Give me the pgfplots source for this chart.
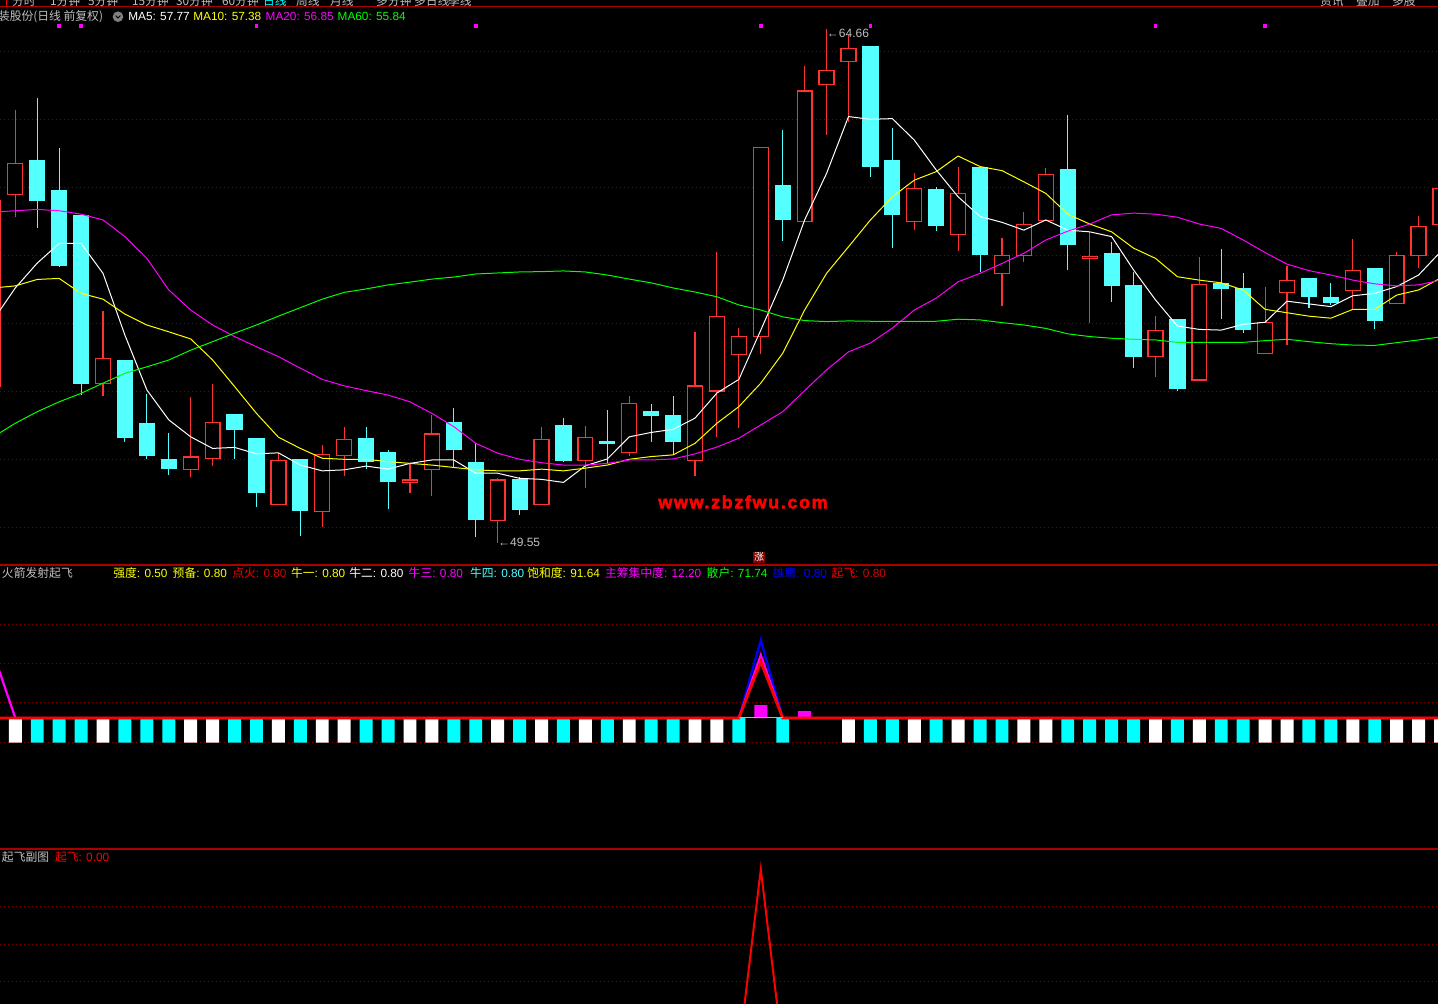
\documentclass[border=0pt]{standalone}
\usepackage{pgfplots}
\pgfplotsset{compat=1.18}
\usepackage{pgfplotstable}
\usepackage{fontspec}
\setmainfont{Liberation Sans}
\newfontfamily\cjk{Noto Sans CJK SC}

\definecolor{upred}{RGB}{255,50,50}
\definecolor{dncyan}{RGB}{84,255,255}
\definecolor{gridred}{RGB}{128,0,0}
\definecolor{sepred}{RGB}{170,0,0}
\definecolor{txtgray}{RGB}{192,192,192}
\definecolor{valred}{RGB}{215,0,0}
\definecolor{tdxcyan}{RGB}{0,255,255}
\definecolor{tdxmag}{RGB}{255,0,255}
\definecolor{tdxyel}{RGB}{255,255,0}
\definecolor{tdxgreen}{RGB}{0,255,0}
\definecolor{tdxblue}{RGB}{0,0,255}
\definecolor{tdxred}{RGB}{255,0,0}

% rising candles (close >= open): i open high low close
\pgfplotstableread{
i o h l c
-1 54.14 59.60 54.14 59.60
0 59.79 62.27 59.14 60.71
4 54.22 56.36 53.86 54.97
8 51.69 53.83 51.49 52.07
9 52.03 54.21 51.80 53.09
12 50.68 52.19 50.68 51.97
14 50.47 52.42 50.02 52.15
15 52.12 52.95 51.52 52.59
18 51.32 51.88 51.02 51.39
19 51.71 53.31 50.93 52.74
22 50.21 51.46 49.55 51.39
24 50.68 52.95 50.68 52.59
26 51.97 52.98 51.16 52.65
28 52.21 53.86 52.11 53.65
31 51.97 55.74 51.52 54.16
32 54.01 58.11 52.66 56.19
33 55.09 55.87 52.91 55.62
34 55.62 61.18 55.09 61.18
36 59.00 63.57 59.00 62.83
37 63.03 64.66 61.55 63.44
38 63.69 64.48 61.93 64.09
41 59.00 60.42 58.75 59.97
43 58.62 60.60 58.14 59.82
45 57.47 58.51 56.52 58.00
46 58.00 59.26 57.81 58.91
47 59.03 60.57 59.03 60.38
49 57.90 58.69 56.02 57.96
52 55.03 56.21 54.43 55.79
54 54.33 57.95 54.33 57.15
57 55.12 57.07 55.12 56.03
58 56.91 57.69 55.37 57.26
61 56.97 58.48 56.41 57.56
63 56.59 58.10 56.59 58.00
64 58.00 59.16 57.64 58.85
65 58.91 60.21 58.80 59.97
}\upcandles

% falling candles
\pgfplotstableread{
i o h l c
1 60.77 62.63 58.81 59.61
2 59.89 61.16 57.66 57.71
3 59.16 59.16 53.89 54.22
5 54.89 54.89 52.52 52.64
6 53.04 53.92 52.02 52.11
7 51.98 52.76 51.54 51.72
10 53.30 53.30 52.02 52.87
11 52.60 52.60 50.61 51.02
13 51.99 51.99 49.75 50.49
16 52.60 52.95 51.71 51.95
17 52.21 52.27 50.53 51.34
20 53.07 53.51 51.74 52.28
21 51.89 52.47 49.71 50.22
23 51.39 51.47 50.37 50.52
25 52.98 53.21 51.93 51.96
27 52.52 53.44 51.88 52.46
29 53.39 53.63 52.52 53.28
30 53.27 53.86 52.16 52.52
35 60.05 61.69 58.43 59.07
39 64.13 64.13 60.31 60.61
40 60.77 61.74 58.22 59.19
42 59.92 60.00 58.72 58.87
44 60.58 60.58 57.52 58.02
48 60.51 62.13 57.58 58.31
50 58.04 58.39 56.64 57.11
51 57.10 57.51 54.69 55.02
53 56.10 56.10 54.02 54.08
55 57.16 58.19 56.13 57.02
56 57.01 57.48 55.71 55.81
59 57.30 57.30 56.46 56.78
60 56.74 57.19 56.55 56.61
62 57.60 57.60 55.84 56.08
}\downcandles

% moving averages
\pgfplotstableread{
i ma5 ma10 ma20 ma60
-1 56.10 57.04 59.27 52.66
0 57.04 57.10 59.31 53.06
1 57.77 57.29 59.35 53.40
2 58.35 57.32 59.31 53.69
3 58.35 56.88 59.21 53.94
4 57.47 56.71 59.04 54.24
5 55.65 56.27 58.55 54.53
6 54.04 55.95 57.91 54.72
7 53.16 55.75 56.98 54.92
8 52.66 55.54 56.39 55.21
9 52.32 54.92 55.95 55.46
10 52.35 54.14 55.61 55.71
11 52.16 53.35 55.31 55.95
12 52.19 52.65 55.02 56.21
13 51.83 52.32 54.68 56.46
14 51.66 52.03 54.35 56.71
15 51.69 52.00 54.16 56.91
16 51.80 52.00 54.02 57.01
17 51.71 51.93 53.89 57.13
18 51.88 51.88 53.69 57.21
19 51.98 51.83 53.35 57.30
20 51.98 51.76 52.96 57.36
21 51.59 51.69 52.47 57.45
22 51.59 51.66 52.18 57.48
23 51.44 51.66 52.00 57.51
24 51.41 51.71 51.90 57.52
25 51.32 51.66 51.83 57.54
26 51.81 51.74 51.83 57.51
27 52.01 51.83 51.88 57.42
28 52.66 52.00 51.98 57.30
29 52.79 52.08 51.98 57.19
30 52.88 52.13 52.01 57.04
31 53.21 52.47 52.16 56.92
32 53.95 53.06 52.36 56.78
33 54.35 53.55 52.62 56.54
34 55.80 54.24 53.01 56.39
35 57.27 55.12 53.40 56.19
36 59.04 56.39 54.02 56.08
37 60.41 57.47 54.63 56.05
38 62.08 58.25 55.16 56.07
39 62.00 59.04 55.42 56.06
40 62.02 59.72 55.86 56.06
41 61.39 60.21 56.39 56.06
42 60.51 60.46 56.74 56.06
43 59.72 60.92 57.22 56.12
44 59.14 60.61 57.47 56.10
45 58.97 60.49 57.76 56.02
46 58.74 60.16 58.06 55.95
47 59.04 59.82 58.45 55.85
48 58.74 59.21 58.71 55.69
49 58.69 58.92 58.92 55.61
50 58.55 58.69 59.19 55.56
51 57.57 58.21 59.24 55.53
52 56.69 57.91 59.21 55.51
53 55.92 57.37 59.12 55.44
54 55.82 57.27 58.92 55.44
55 55.80 57.19 58.79 55.44
56 55.97 56.98 58.45 55.44
57 56.03 56.41 58.08 55.49
58 56.65 56.31 57.74 55.53
59 56.57 56.21 57.55 55.46
60 56.49 56.15 57.42 55.40
61 56.81 56.41 57.27 55.36
62 56.88 56.41 57.16 55.35
63 57.08 56.83 57.10 55.43
64 57.42 56.98 57.13 55.51
65 58.10 57.33 57.27 55.60
}\malines

% one candle per row: wick, then body
\newcommand\drawcandles[3]{%
  \pgfplotstablegetrowsof{#1}%
  \pgfmathtruncatemacro\nrows{\pgfplotsretval-1}%
  \pgfplotsforeachungrouped \rowi in {0,...,\nrows}{%
    \pgfplotstablegetelem{\rowi}{i}\of{#1}\let\ci\pgfplotsretval
    \pgfplotstablegetelem{\rowi}{o}\of{#1}\let\cO\pgfplotsretval
    \pgfplotstablegetelem{\rowi}{h}\of{#1}\let\cH\pgfplotsretval
    \pgfplotstablegetelem{\rowi}{l}\of{#1}\let\cL\pgfplotsretval
    \pgfplotstablegetelem{\rowi}{c}\of{#1}\let\cC\pgfplotsretval
    \pgfmathsetmacro\xa{\ci-0.34}%
    \pgfmathsetmacro\xb{\ci+0.34}%
    \edef\candle{%
      \noexpand\addplot[#2, line width=0.55pt] coordinates {(\ci,\cL) (\ci,\cH)};
      \noexpand\addplot[draw=#2, fill=#3, line width=0.65pt] coordinates {(\xa,\cO) (\xb,\cO) (\xb,\cC) (\xa,\cC)} -- cycle;
    }%
    \candle
  }%
}

\pgfplotsset{
  panel/.style={
    scale only axis, width=719pt, xmin=-0.698, xmax=64.886,
    anchor=north west,
    axis line style={draw=none}, tick style={draw=none},
    major tick length=0pt,
    xtick=\empty, yticklabels={}, ymajorgrids,
    major grid style={gridred, line width=0.5pt, dash pattern=on 0.5pt off 1.5pt},
  },
}
\tikzset{lbl/.style={anchor=base west, inner sep=0pt, outer sep=0pt,
  font=\fontsize{5.9pt}{6pt}\selectfont}}

\begin{document}
\begin{tikzpicture}
\useasboundingbox (0,0) rectangle (719pt,-502pt);
\fill[black] (0,0) rectangle (719pt,-502pt);

% ---- price panel
\begin{axis}[panel, at={(0pt,-4pt)}, height=278.5pt,
  ymin=48.891, ymax=65.274, ytick={50,52,...,64}]
\drawcandles{\downcandles}{dncyan}{dncyan}
\drawcandles{\upcandles}{upred}{black}
\addplot[white, line width=0.5pt] table[x=i, y=ma5] {\malines};
\addplot[tdxyel, line width=0.5pt] table[x=i, y=ma10] {\malines};
\addplot[tdxmag, line width=0.5pt] table[x=i, y=ma20] {\malines};
\addplot[tdxgreen, line width=0.5pt] table[x=i, y=ma60] {\malines};
\addplot[only marks, mark=square*, mark size=0.7pt, tdxmag]
  coordinates {(2,64.74) (3,64.74) (11,64.74) (21,64.74) (34,64.74) (39,64.74) (52,64.74) (57,64.74)};
\node[anchor=west, inner sep=0pt, txtgray, font=\fontsize{6pt}{6pt}\selectfont]
  at (axis cs:22,49.55) {←49.55};
\node[anchor=west, inner sep=0pt, txtgray, font=\fontsize{6pt}{6pt}\selectfont, yshift=-2.3pt]
  at (axis cs:37,64.66) {←64.66};
\end{axis}

% ---- indicator panel
\begin{axis}[panel, at={(0pt,-282.5pt)}, height=142.5pt,
  ymin=-132, ymax=153, ytick={-24.3,15.7,54.7,93.7}]
\addplot[ybar, bar width=0.59, bar shift=0pt, fill=white, draw=none]
  coordinates {(0,-24.7) (4,-24.7) (8,-24.7) (9,-24.7) (12,-24.7) (14,-24.7) (15,-24.7) (18,-24.7) (19,-24.7) (22,-24.7) (24,-24.7) (26,-24.7) (28,-24.7) (31,-24.7) (32,-24.7) (38,-24.7) (41,-24.7) (43,-24.7) (46,-24.7) (47,-24.7) (52,-24.7) (54,-24.7) (57,-24.7) (58,-24.7) (61,-24.7) (63,-24.7) (64,-24.7) (65,-24.7)};
\addplot[ybar, bar width=0.59, bar shift=0pt, fill=tdxcyan, draw=none]
  coordinates {(1,-24.7) (2,-24.7) (3,-24.7) (5,-24.7) (6,-24.7) (7,-24.7) (10,-24.7) (11,-24.7) (13,-24.7) (16,-24.7) (17,-24.7) (20,-24.7) (21,-24.7) (23,-24.7) (25,-24.7) (27,-24.7) (29,-24.7) (30,-24.7) (33,-24.7) (35,-24.7) (39,-24.7) (40,-24.7) (42,-24.7) (44,-24.7) (45,-24.7) (48,-24.7) (49,-24.7) (50,-24.7) (51,-24.7) (53,-24.7) (55,-24.7) (56,-24.7) (59,-24.7) (60,-24.7) (62,-24.7)};
\addplot[ybar, bar width=0.59, bar shift=0pt, fill=tdxmag, draw=none]
  coordinates {(34,13) (36,7)};
\addplot[tdxblue, line width=1.1pt] coordinates {(33,0) (34,78) (35,0)};
\addplot[tdxmag, line width=1.1pt] coordinates {(-1,64.5) (0,0) (33,0) (34,63) (35,0) (65,0)};
\addplot[tdxred, line width=1.4pt] coordinates {(-1,0) (33,0) (34,56.3) (35,0) (65,0)};
\addplot[tdxcyan, line width=0.8pt] coordinates {(33,0.4) (35,0.4)};
\end{axis}

% ---- lower panel
\begin{axis}[panel, at={(0pt,-425pt)}, height=77pt,
  ymin=47, ymax=201, ytick={69.7,106.7,144.7}]
\addplot[tdxred, line width=1pt] coordinates {(-1,0) (33,0) (34,181.7) (35,0) (65,0)};
\end{axis}

% ---- frame lines
\draw[sepred, line width=0.5pt] (0,-3.35pt) -- (719pt,-3.35pt);
\draw[tdxred, line width=0.5pt] (3.35pt,0) -- (3.35pt,-3.35pt);
\draw[sepred, line width=0.6pt] (0,-282.5pt) -- (719pt,-282.5pt);
\draw[sepred, line width=0.6pt] (0,-424.5pt) -- (719pt,-424.5pt);

% ---- menu strip (cut off at top, as in the screenshot)
\begin{scope}
\clip (0,0) rectangle (719pt,-3.1pt);
\foreach \x/\t in {6/分时,25/1分钟,44/5分钟,66/15分钟,88/30分钟,111/60分钟,148/周线,165/月线,188/多分钟,207/多日线,224/季线,660/资讯,678/叠加,696/多股}
  \node[lbl, txtgray] at (\x pt,-2.6pt) {\cjk \t};
\node[lbl, tdxcyan] at (131.5pt,-2.6pt) {\cjk 日线};
\end{scope}

% ---- titles
\node[lbl, txtgray] at (-1pt,-10.35pt) {\cjk 装股份(日线 前复权)};
\fill[gray] (59pt,-8.35pt) circle (2.65pt);
\draw[black, line width=0.45pt] (57.8pt,-7.8pt) -- (59pt,-9pt) -- (60.2pt,-7.8pt);
\node[lbl, white] at (64.15pt,-10.35pt) {MA5: 57.77};
\node[lbl, tdxyel] at (96.65pt,-10.35pt) {MA10: 57.38};
\node[lbl, tdxmag] at (132.85pt,-10.35pt) {MA20: 56.85};
\node[lbl, tdxgreen] at (168.85pt,-10.35pt) {MA60: 55.84};

\node[lbl, txtgray] at (1pt,-288.65pt) {\cjk 火箭发射起飞};
\node[lbl, tdxyel] at (56.65pt,-288.65pt) {{\cjk 强度}: 0.50};
\node[lbl, tdxyel] at (86.35pt,-288.65pt) {{\cjk 预备}: 0.80};
\node[lbl, tdxred] at (116.15pt,-288.65pt) {{\cjk 点火}: \textcolor{valred}{0.80}};
\node[lbl, tdxyel] at (145.5pt,-288.65pt) {{\cjk 牛一}: 0.80};
\node[lbl, white] at (174.65pt,-288.65pt) {{\cjk 牛二}: 0.80};
\node[lbl, tdxmag] at (204.35pt,-288.65pt) {{\cjk 牛三}: 0.80};
\node[lbl, dncyan] at (235pt,-288.65pt) {{\cjk 牛四}: 0.80};
\node[lbl, tdxyel] at (263.65pt,-288.65pt) {{\cjk 饱和度}: 91.64};
\node[lbl, tdxmag] at (302.5pt,-288.65pt) {{\cjk 主筹集中度}: 12.20};
\node[lbl, tdxgreen] at (353.35pt,-288.65pt) {{\cjk 散户}: 71.74};
\node[lbl, tdxblue] at (386.35pt,-288.65pt) {{\cjk 雄鹰}: 0.80};
\node[lbl, tdxred] at (415.85pt,-288.65pt) {{\cjk 起飞}: \textcolor{valred}{0.80}};

\node[lbl, txtgray] at (1pt,-430.8pt) {\cjk 起飞副图};
\node[lbl, tdxred] at (27.5pt,-430.8pt) {{\cjk 起飞}: 0.00};

% ---- watermark and marker
\node[tdxred, inner sep=0pt, font=\fontsize{9pt}{9pt}\bfseries\addfontfeatures{LetterSpace=9,FakeBold=2.5}]
  at (371.5pt,-251pt) {www.zbzfwu.com};
\node[fill=gridred, text=white, inner sep=0.4pt, font=\fontsize{5pt}{5pt}\selectfont\cjk]
  at (379.5pt,-278.6pt) {涨};
\end{tikzpicture}
\end{document}
